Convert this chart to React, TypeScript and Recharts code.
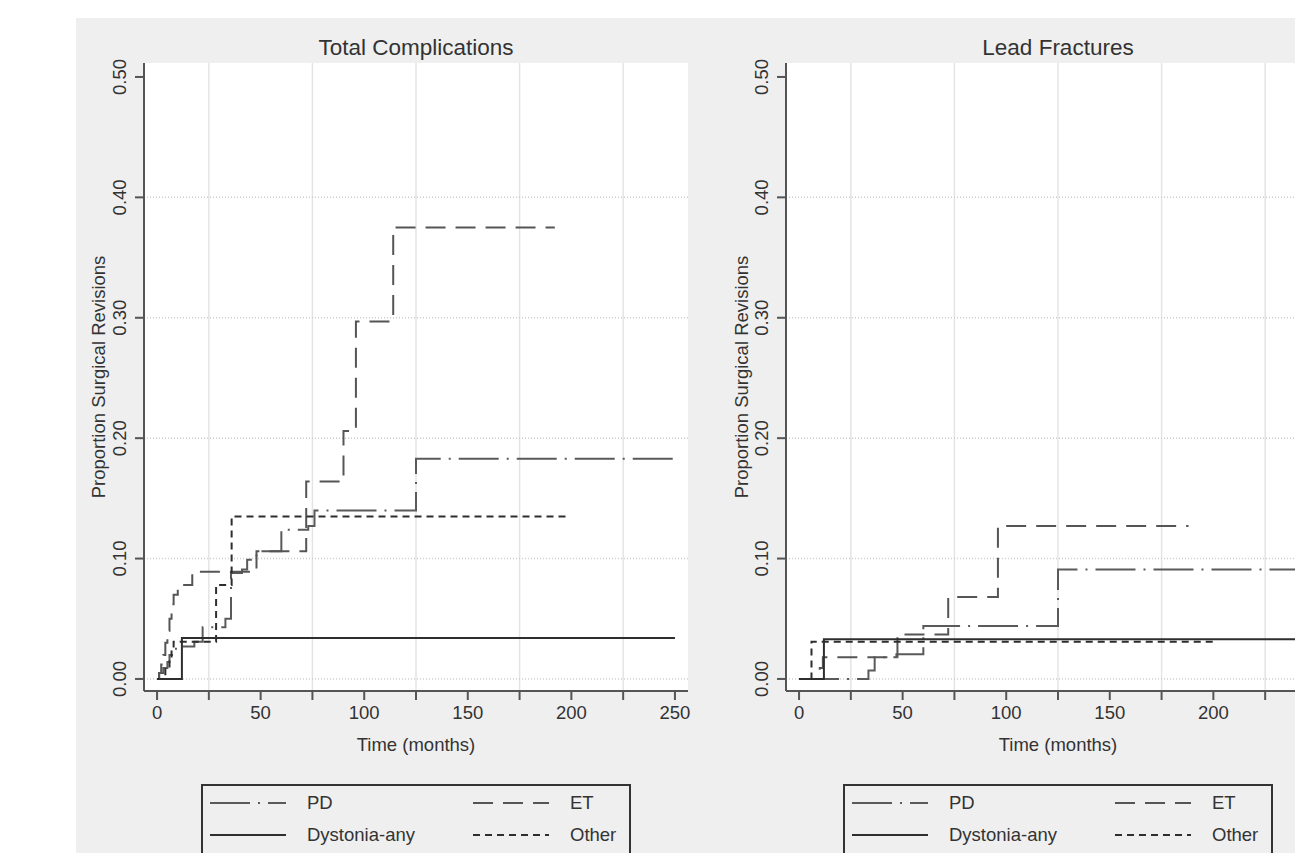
import React from 'react';
import { LineChart, Line, XAxis, YAxis, CartesianGrid, ReferenceLine, Legend } from 'recharts';

// axis ticks / grid positions
const monthTicks = [0, 25, 50, 75, 100, 125, 150, 175, 200, 225, 250];
const monthGrid = [25, 75, 125, 175, 225];
const propTicks = [0, 0.1, 0.2, 0.3, 0.4, 0.5];
const propGrid = [0, 0.1, 0.2, 0.3, 0.4];

// Total complications: [month, cumulative proportion]
const totalPD = [
  [0, 0], [1, 0.005], [3, 0.009], [5, 0.014], [6, 0.02], [8, 0.025], [12, 0.027],
  [18, 0.031], [22, 0.043], [33, 0.05], [35.7, 0.088], [41, 0.091], [43.5, 0.099],
  [48, 0.106], [60, 0.124], [73, 0.127], [76, 0.14], [125, 0.183], [250, 0.183],
];
const totalET = [
  [0, 0], [1, 0.005], [2, 0.012], [3, 0.02], [4, 0.03], [5, 0.04], [6, 0.05],
  [7, 0.062], [8, 0.07], [10, 0.078], [17, 0.089], [48, 0.106], [72, 0.164],
  [90, 0.206], [96, 0.297], [114, 0.375], [192, 0.375],
];
const totalDystonia = [[0, 0], [12, 0.034], [250, 0.034]];
const totalOther = [
  [0, 0], [4, 0.008], [6, 0.016], [7, 0.024], [8, 0.031], [28.5, 0.078],
  [36, 0.135], [198, 0.135],
];

// Lead fractures
const leadPD = [
  [0, 0], [33.5, 0.007], [36.5, 0.018], [47, 0.0205], [60, 0.044], [125, 0.091], [250, 0.091],
];
const leadET = [
  [0, 0], [10, 0.009], [11.5, 0.018], [47.5, 0.037], [72, 0.068], [96, 0.127], [188, 0.127],
];
const leadDystonia = [[0, 0], [12, 0.033], [250, 0.033]];
const leadOther = [[0, 0], [6, 0.031], [201, 0.031]];

const SERIES = [
  { name: 'PD', stroke: '#5a5a5a', dash: '40 8 2 8' },
  { name: 'ET', stroke: '#555555', dash: '20 10' },
  { name: 'Dystonia-any', stroke: '#2e2e2e', dash: undefined },
  { name: 'Other', stroke: '#2e2e2e', dash: '7 5' },
];

const FONT = '"Liberation Sans", Arial, sans-serif';
const TEXT = '#333';

const toPoints = (rows: number[][]) => rows.map(([t, p]) => ({ t, p }));

const YTick = (props: any) => {
  const { x, y, payload } = props;
  return (
    <text
      x={x}
      y={y}
      transform={`rotate(-90, ${x}, ${y})`}
      textAnchor="middle"
      fontSize={18.5}
      fill={TEXT}
    >
      {Number(payload.value).toFixed(2)}
    </text>
  );
};

const renderLegend = () => (
  <div
    style={{
      boxSizing: 'border-box',
      width: 430,
      height: 80,
      border: '2px solid #333',
      paddingLeft: 7,
      paddingTop: 1,
      display: 'grid',
      gridTemplateColumns: '263px 1fr',
      gridAutoRows: '32px',
      fontFamily: FONT,
      fontSize: 18.5,
      color: TEXT,
    }}
  >
    {SERIES.map((s) => (
      <div key={s.name} style={{ display: 'flex', alignItems: 'center' }}>
        <svg width={76} height={4} style={{ display: 'block' }}>
          <line x1={0} y1={2} x2={76} y2={2} stroke={s.stroke} strokeWidth={2} strokeDasharray={s.dash} />
        </svg>
        <span style={{ marginLeft: 21 }}>{s.name}</span>
      </div>
    ))}
  </div>
);

interface PanelProps {
  title: string;
  left: number;
  yLabelOffset: number;
  lastLabel: number;
  data: number[][][];
}

const Panel = ({ title, left, yLabelOffset, lastLabel, data }: PanelProps) => (
  <div style={{ position: 'absolute', left, top: 18, width: 640, height: 835 }}>
    <LineChart width={640} height={835} margin={{ top: 45, right: 28, bottom: 82, left: 0 }}>
      <CartesianGrid fill="#ffffff" horizontal={false} vertical={false} stroke="none" />
      {monthGrid.map((v) => (
        <ReferenceLine key={`gx${v}`} x={v} stroke="#e4e4e4" strokeWidth={1.5} />
      ))}
      {propGrid.map((v) => (
        <ReferenceLine key={`gy${v}`} y={v} stroke="#cccccc" strokeWidth={1.5} strokeDasharray="1 2" />
      ))}
      <XAxis
        type="number"
        dataKey="t"
        domain={[-6.3, 256.3]}
        allowDataOverflow
        ticks={monthTicks}
        interval={0}
        tickFormatter={(v: number) => (v % 50 === 0 && v <= lastLabel ? String(v) : '')}
        height={80}
        tickSize={9}
        tickMargin={6}
        stroke="#555"
        strokeWidth={2}
        tick={{ fontSize: 18.5, fill: TEXT }}
        label={{ value: 'Time (months)', position: 'insideBottom', offset: 20, fontSize: 18.5, fill: TEXT }}
      />
      <YAxis
        type="number"
        domain={[-0.01, 0.5116]}
        allowDataOverflow
        ticks={propTicks}
        interval={0}
        width={68}
        tickSize={9}
        tickMargin={8.5}
        stroke="#555"
        strokeWidth={2}
        tick={<YTick />}
        label={{
          value: 'Proportion Surgical Revisions',
          angle: -90,
          position: 'insideLeft',
          offset: yLabelOffset,
          fontSize: 18.5,
          fill: TEXT,
          style: { textAnchor: 'middle' },
        }}
      />
      {SERIES.map((s, i) => (
        <Line
          key={s.name}
          name={s.name}
          data={toPoints(data[i])}
          dataKey="p"
          type="stepAfter"
          stroke={s.stroke}
          strokeWidth={2}
          strokeDasharray={s.dash}
          dot={false}
          activeDot={false}
          isAnimationActive={false}
        />
      ))}
      <Legend
        layout="horizontal"
        verticalAlign="middle"
        align="center"
        wrapperStyle={{ left: 125, top: 766, width: 430, height: 80 }}
        content={renderLegend}
      />
    </LineChart>
    <div
      style={{
        position: 'absolute',
        left: 68,
        width: 544,
        top: 20,
        textAlign: 'center',
        fontSize: 22.5,
        lineHeight: '20px',
        color: TEXT,
        fontFamily: FONT,
      }}
    >
      {title}
    </div>
  </div>
);

export default function App() {
  return (
    <div
      style={{
        position: 'absolute',
        left: 0,
        top: 0,
        width: 1295,
        height: 853,
        overflow: 'hidden',
        background: '#ffffff',
        fontFamily: FONT,
      }}
    >
      <div style={{ position: 'absolute', left: 76, top: 18, right: 0, bottom: 0, background: '#efefef' }} />
      <Panel
        title="Total Complications"
        left={76}
        yLabelOffset={22}
        lastLabel={250}
        data={[totalPD, totalET, totalDystonia, totalOther]}
      />
      {/* right panel runs past the page edge, as in the source figure */}
      <Panel
        title="Lead Fractures"
        left={718}
        yLabelOffset={23}
        lastLabel={200}
        data={[leadPD, leadET, leadDystonia, leadOther]}
      />
    </div>
  );
}
